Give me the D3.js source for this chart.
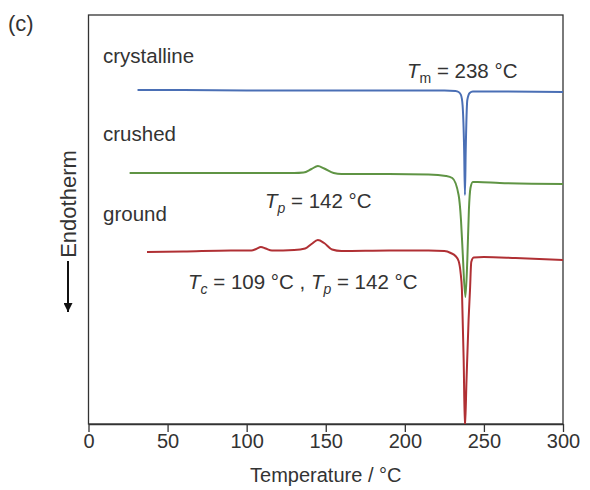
<!DOCTYPE html>
<html>
<head>
<meta charset="utf-8">
<script src="https://cdn.jsdelivr.net/npm/d3@7"></script>
<style>
  html, body { margin: 0; padding: 0; background: #fff; overflow: hidden; }
  svg { display: block; }
  text { font-family: 'Liberation Sans', Arial, sans-serif; fill: #333; }
</style>
</head>
<body>
<div id="chart"></div>
<script>
// DSC traces, temperature in °C, heat flow in arbitrary units (curves offset)
const xTicks = [0, 50, 100, 150, 200, 250, 300]

const crystallineT = [31, 60, 100, 150, 200, 225, 232, 234, 235.5, 236.5, 237.5, 238, 238.5, 239.5, 241, 243, 260, 300]
const crystallineHF = [33.4, 33.4, 33.35, 33.35, 33.35, 33.35, 33.3, 33.2, 32.9, 31.9, 27.4, 22.9, 27.4, 32.4, 33.1, 33.25, 33.25, 33.2]

const crushedT = [26, 60, 100, 130, 136, 141, 145, 149, 155, 160, 190, 215, 226, 230, 234, 235.5, 236.5, 238.3, 239.5, 240.5, 241.5, 243, 246, 260, 300]
const crushedHF = [25.1, 25.1, 25.1, 25.1, 25.15, 25.5, 25.8, 25.55, 25.1, 25.0, 25.0, 24.95, 24.8, 24.6, 22.9, 20.4, 17.4, 12.7, 16.4, 21.4, 23.6, 24.2, 24.2, 24.1, 24.0]

const groundT = [37, 60, 90, 103, 106, 109, 112, 116, 130, 137, 141, 145, 149, 154, 160, 190, 215, 225, 229, 232, 234, 235.2, 236.1, 237.2, 238, 239, 240.3, 241.2, 242, 243.5, 250, 270, 300]
const groundHF = [17.2, 17.25, 17.35, 17.35, 17.5, 17.7, 17.55, 17.35, 17.4, 17.55, 18.0, 18.4, 18.1, 17.45, 17.3, 17.35, 17.35, 17.3, 17.1, 16.8, 16.3, 15.2, 13.4, 6.4, -0.4, 4.4, 10.4, 13.4, 16.2, 16.65, 16.7, 16.6, 16.4]

const seriesNames = ['crystalline', 'crushed', 'ground']
const seriesColors = ['#4a6fb5', '#5f9444', '#b03034']

const width = 590
const height = 490
const margin = {top: 15, right: 27, bottom: 66, left: 88.5}
const innerWidth = width - margin.left - margin.right
const innerHeight = height - margin.top - margin.bottom

const svg = d3.select('#chart').append('svg')
  .attr('width', width)
  .attr('height', height)
const defs = svg.append('defs')

const xScale = d3.scaleLinear().domain([0, 300]).range([0, innerWidth])
const yScale = d3.scaleLinear().domain([0, 40.9]).range([innerHeight, 0])

// clip for the curves (the ground peak runs into the axis)
defs.append('clipPath').attr('id', 'plot-clip')
  .append('rect')
    .attr('x', margin.left).attr('y', margin.top)
    .attr('width', innerWidth).attr('height', innerHeight)

const g = svg.append('g')
  .attr('transform', `translate(${margin.left}, ${margin.top})`)

// curves, drawn blue -> green -> red so the later ones sit on top
const toPoints = (ts, vs) => ts.map((t, i) => ({t: t, v: vs[i]}))
const traces = [
  toPoints(crystallineT, crystallineHF),
  toPoints(crushedT, crushedHF),
  toPoints(groundT, groundHF)
]
const line = d3.line()
  .x(d => xScale(d.t) + margin.left)
  .y(d => yScale(d.v) + margin.top)
  .curve(d3.curveMonotoneX)

svg.append('g').attr('clip-path', 'url(#plot-clip)')
  .selectAll('path').data(traces).join('path')
    .attr('d', line)
    .attr('fill', 'none')
    .attr('stroke', (d, i) => seriesColors[i])
    .attr('stroke-width', 2)
    .attr('stroke-linejoin', 'round')

// frame
g.append('rect')
  .attr('width', innerWidth)
  .attr('height', innerHeight)
  .attr('fill', 'none')
  .attr('stroke', '#333')
  .attr('stroke-width', 1.3)

// x axis
const xAxis = d3.axisBottom(xScale)
  .tickValues(xTicks)
  .tickSize(8)
  .tickPadding(2)
  .tickSizeOuter(0)
const xg = g.append('g')
  .attr('transform', `translate(0, ${innerHeight})`)
  .attr('font-family', null)
  .attr('font-size', null)
  .call(xAxis)
xg.select('.domain').attr('stroke', '#333').attr('stroke-width', 1.3)
xg.selectAll('.tick line').attr('stroke', '#333').attr('stroke-width', 1.3)
xg.attr('font-family', "'Liberation Sans', Arial, sans-serif").attr('font-size', 20)
xg.selectAll('.tick text').attr('fill', '#333')

svg.append('text')
  .attr('x', margin.left + innerWidth / 2)
  .attr('y', 482)
  .attr('text-anchor', 'middle')
  .attr('font-size', 20)
  .text('Temperature / °C')

// y label with arrow pointing down
defs.append('marker')
  .attr('id', 'arrow')
  .attr('viewBox', '0 0 10 10')
  .attr('refX', 10).attr('refY', 5)
  .attr('markerWidth', 9).attr('markerHeight', 9)
  .attr('markerUnits', 'userSpaceOnUse')
  .attr('orient', 'auto')
  .append('path').attr('d', 'M0,0 L10,5 L0,10 z').attr('fill', '#111')

svg.append('text')
  .attr('transform', 'translate(76, 204) rotate(-90)')
  .attr('text-anchor', 'middle')
  .attr('font-size', 22)
  .text('Endotherm')
svg.append('line')
  .attr('x1', 68).attr('x2', 68)
  .attr('y1', 261).attr('y2', 312)
  .attr('stroke', '#111')
  .attr('stroke-width', 2)
  .attr('marker-end', 'url(#arrow)')

// panel letter and sample labels
svg.append('text').attr('x', 8).attr('y', 31).attr('font-size', 22).text('(c)')
const labelY = [63, 141, 221]
svg.selectAll('text.sample').data(seriesNames).join('text')
  .attr('class', 'sample')
  .attr('x', 103)
  .attr('y', (d, i) => labelY[i])
  .attr('font-size', 20.5)
  .text(d => d)

// peak annotations
const annotate = (x, y, parts) => {
  const t = svg.append('text').attr('x', x).attr('y', y).attr('font-size', 20.5)
  parts.forEach(p => {
    const s = t.append('tspan').text(p.text)
    if (p.italic) s.style('font-style', 'italic')
    if (p.sub) s.attr('dy', 5).attr('font-size', 14)
    if (p.back) s.attr('dy', -5)
  })
}
annotate(407, 78, [
  {text: 'T', italic: true}, {text: 'm', sub: true}, {text: ' = 238 °C', back: true}
])
annotate(265, 208, [
  {text: 'T', italic: true}, {text: 'p', sub: true, italic: true}, {text: ' = 142 °C', back: true}
])
annotate(188, 289, [
  {text: 'T', italic: true}, {text: 'c', sub: true, italic: true}, {text: ' = 109 °C , ', back: true},
  {text: 'T', italic: true}, {text: 'p', sub: true, italic: true}, {text: ' = 142 °C', back: true}
])
</script>
</body>
</html>
